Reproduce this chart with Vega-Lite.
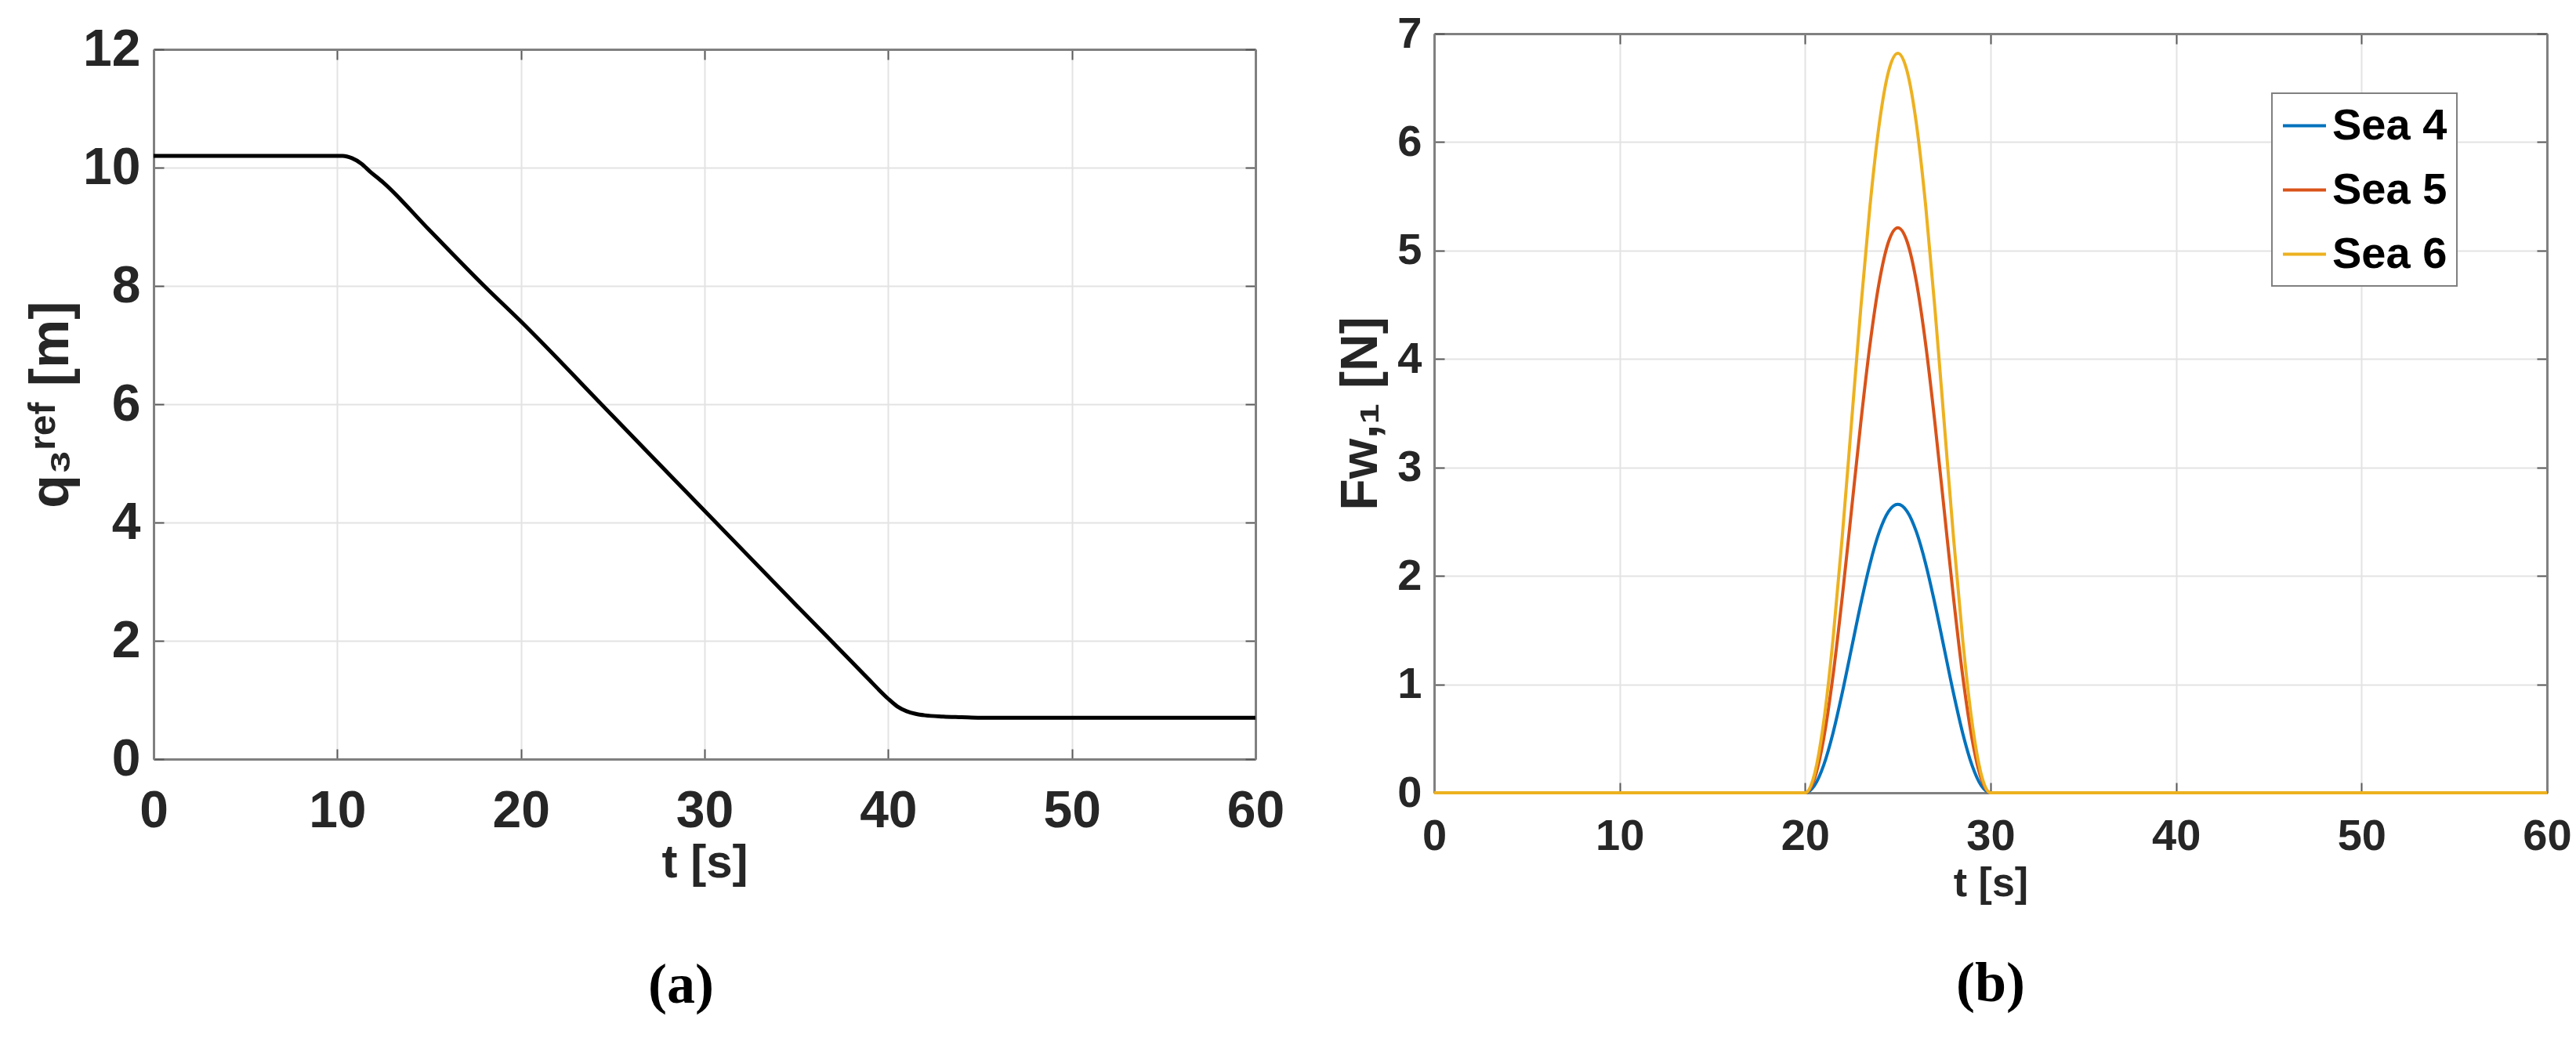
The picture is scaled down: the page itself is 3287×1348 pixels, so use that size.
{
  "$schema": "https://vega.github.io/schema/vega-lite/v6.json",
  "background": "white",
  "padding": {"left": 30, "top": 15, "right": 0, "bottom": 20},
  "autosize": {"type": "pad"},
  "datasets": {
    "q3": [
      {"t": 0, "q": 10.2}, {"t": 5, "q": 10.2}, {"t": 10, "q": 10.2}, {"t": 10.3, "q": 10.2},
      {"t": 10.8, "q": 10.16}, {"t": 11.3, "q": 10.07}, {"t": 11.8, "q": 9.93}, {"t": 12.5, "q": 9.75},
      {"t": 15, "q": 8.95}, {"t": 18, "q": 8.0}, {"t": 20, "q": 7.4}, {"t": 25, "q": 5.8},
      {"t": 30, "q": 4.2}, {"t": 35, "q": 2.6}, {"t": 38, "q": 1.65}, {"t": 39, "q": 1.33},
      {"t": 39.5, "q": 1.17}, {"t": 40, "q": 1.02}, {"t": 40.5, "q": 0.89}, {"t": 41, "q": 0.81},
      {"t": 41.5, "q": 0.765}, {"t": 42, "q": 0.74}, {"t": 43, "q": 0.72}, {"t": 44, "q": 0.71},
      {"t": 45, "q": 0.7}, {"t": 50, "q": 0.7}, {"t": 60, "q": 0.7}
    ],
    "fw": [
      {"t": 0, "F": 0, "sea": "Sea 4"}, {"t": 20, "F": 0, "sea": "Sea 4"}, {"t": 20.5, "F": 0.065, "sea": "Sea 4"},
      {"t": 21, "F": 0.254, "sea": "Sea 4"}, {"t": 21.5, "F": 0.548, "sea": "Sea 4"}, {"t": 22, "F": 0.919, "sea": "Sea 4"},
      {"t": 22.5, "F": 1.33, "sea": "Sea 4"}, {"t": 23, "F": 1.741, "sea": "Sea 4"}, {"t": 23.5, "F": 2.112, "sea": "Sea 4"},
      {"t": 24, "F": 2.406, "sea": "Sea 4"}, {"t": 24.5, "F": 2.595, "sea": "Sea 4"}, {"t": 25, "F": 2.66, "sea": "Sea 4"},
      {"t": 25.5, "F": 2.595, "sea": "Sea 4"}, {"t": 26, "F": 2.406, "sea": "Sea 4"}, {"t": 26.5, "F": 2.112, "sea": "Sea 4"},
      {"t": 27, "F": 1.741, "sea": "Sea 4"}, {"t": 27.5, "F": 1.33, "sea": "Sea 4"}, {"t": 28, "F": 0.919, "sea": "Sea 4"},
      {"t": 28.5, "F": 0.548, "sea": "Sea 4"}, {"t": 29, "F": 0.254, "sea": "Sea 4"}, {"t": 29.5, "F": 0.065, "sea": "Sea 4"},
      {"t": 30, "F": 0, "sea": "Sea 4"}, {"t": 60, "F": 0, "sea": "Sea 4"},
      {"t": 0, "F": 0, "sea": "Sea 5"}, {"t": 20, "F": 0, "sea": "Sea 5"}, {"t": 20.5, "F": 0.128, "sea": "Sea 5"},
      {"t": 21, "F": 0.498, "sea": "Sea 5"}, {"t": 21.5, "F": 1.074, "sea": "Sea 5"}, {"t": 22, "F": 1.8, "sea": "Sea 5"},
      {"t": 22.5, "F": 2.605, "sea": "Sea 5"}, {"t": 23, "F": 3.41, "sea": "Sea 5"}, {"t": 23.5, "F": 4.136, "sea": "Sea 5"},
      {"t": 24, "F": 4.712, "sea": "Sea 5"}, {"t": 24.5, "F": 5.082, "sea": "Sea 5"}, {"t": 25, "F": 5.21, "sea": "Sea 5"},
      {"t": 25.5, "F": 5.082, "sea": "Sea 5"}, {"t": 26, "F": 4.712, "sea": "Sea 5"}, {"t": 26.5, "F": 4.136, "sea": "Sea 5"},
      {"t": 27, "F": 3.41, "sea": "Sea 5"}, {"t": 27.5, "F": 2.605, "sea": "Sea 5"}, {"t": 28, "F": 1.8, "sea": "Sea 5"},
      {"t": 28.5, "F": 1.074, "sea": "Sea 5"}, {"t": 29, "F": 0.498, "sea": "Sea 5"}, {"t": 29.5, "F": 0.128, "sea": "Sea 5"},
      {"t": 30, "F": 0, "sea": "Sea 5"}, {"t": 60, "F": 0, "sea": "Sea 5"},
      {"t": 0, "F": 0, "sea": "Sea 6"}, {"t": 20, "F": 0, "sea": "Sea 6"}, {"t": 20.5, "F": 0.167, "sea": "Sea 6"},
      {"t": 21, "F": 0.651, "sea": "Sea 6"}, {"t": 21.5, "F": 1.406, "sea": "Sea 6"}, {"t": 22, "F": 2.356, "sea": "Sea 6"},
      {"t": 22.5, "F": 3.41, "sea": "Sea 6"}, {"t": 23, "F": 4.464, "sea": "Sea 6"}, {"t": 23.5, "F": 5.414, "sea": "Sea 6"},
      {"t": 24, "F": 6.169, "sea": "Sea 6"}, {"t": 24.5, "F": 6.653, "sea": "Sea 6"}, {"t": 25, "F": 6.82, "sea": "Sea 6"},
      {"t": 25.5, "F": 6.653, "sea": "Sea 6"}, {"t": 26, "F": 6.169, "sea": "Sea 6"}, {"t": 26.5, "F": 5.414, "sea": "Sea 6"},
      {"t": 27, "F": 4.464, "sea": "Sea 6"}, {"t": 27.5, "F": 3.41, "sea": "Sea 6"}, {"t": 28, "F": 2.356, "sea": "Sea 6"},
      {"t": 28.5, "F": 1.406, "sea": "Sea 6"}, {"t": 29, "F": 0.651, "sea": "Sea 6"}, {"t": 29.5, "F": 0.167, "sea": "Sea 6"},
      {"t": 30, "F": 0, "sea": "Sea 6"}, {"t": 60, "F": 0, "sea": "Sea 6"}
    ]
  },
  "spacing": 64,
  "resolve": {"scale": {"color": "independent"}, "legend": {"color": "independent"}},
  "hconcat": [
    {
      "bounds": "flush",
      "spacing": 19,
      "vconcat": [
        {
          "width": 1406,
          "height": 1,
          "data": {"values": [{"s": 0}]},
          "mark": {"type": "point", "opacity": 0, "size": 1},
          "encoding": {}
        },
        {
          "width": 1406,
          "height": 906,
          "data": {"name": "q3"},
          "title": {"text": "(a)", "orient": "bottom", "font": "Liberation Serif", "fontSize": 72, "fontWeight": "bold", "color": "#000000", "offset": 92, "anchor": "middle", "dx": -30},
          "layer": [
            {
              "mark": {"type": "line", "color": "#000000", "strokeWidth": 5, "interpolate": "monotone"},
              "encoding": {
                "x": {"field": "t", "type": "quantitative", "scale": {"domain": [0, 60], "nice": false},
                  "axis": {"orient": "bottom", "values": [0, 10, 20, 30, 40, 50, 60], "title": "t [s]", "labelFontSize": 66, "titleFontSize": 60, "labelPadding": 47, "titlePadding": 4, "grid": true}},
                "y": {"field": "q", "type": "quantitative", "scale": {"domain": [0, 12], "nice": false},
                  "axis": {"orient": "left", "values": [0, 2, 4, 6, 8, 10, 12], "title": "q₃ʳᵉᶠ [m]", "labelFontSize": 66, "titleFontSize": 70, "labelPadding": 30, "titlePadding": 4, "grid": true}}
              }
            },
            {
              "mark": {"type": "line", "strokeOpacity": 0},
              "encoding": {
                "x": {"field": "t", "type": "quantitative", "axis": {"orient": "top", "values": [0, 10, 20, 30, 40, 50, 60], "labels": false, "title": null, "grid": false}},
                "y": {"field": "q", "type": "quantitative", "axis": {"orient": "right", "values": [0, 2, 4, 6, 8, 10, 12], "labels": false, "title": null, "grid": false}}
              }
            }
          ],
          "resolve": {"axis": {"x": "independent", "y": "independent"}}
        }
      ]
    },
    {
      "width": 1420,
      "height": 969,
      "data": {"name": "fw"},
      "title": {"text": "(b)", "orient": "bottom", "font": "Liberation Serif", "fontSize": 72, "fontWeight": "bold", "color": "#000000", "offset": 68, "anchor": "middle"},
      "layer": [
        {
          "mark": {"type": "line", "strokeWidth": 4, "interpolate": "monotone"},
          "encoding": {
            "x": {"field": "t", "type": "quantitative", "scale": {"domain": [0, 60], "nice": false},
              "axis": {"orient": "bottom", "values": [0, 10, 20, 30, 40, 50, 60], "title": "t [s]", "labelFontSize": 56, "titleFontSize": 52, "labelPadding": 41, "titlePadding": 7, "grid": true}},
            "y": {"field": "F", "type": "quantitative", "scale": {"domain": [0, 7], "nice": false},
              "axis": {"orient": "left", "values": [0, 1, 2, 3, 4, 5, 6, 7], "title": "Fᴡ,₁ [N]", "labelFontSize": 56, "titleFontSize": 66, "labelPadding": 29, "titlePadding": 12, "grid": true}},
            "color": {"field": "sea", "type": "nominal",
              "scale": {"domain": ["Sea 4", "Sea 5", "Sea 6"], "range": ["#0072BD", "#D95319", "#EDB120"]},
              "legend": {"title": null, "orient": "none", "legendX": 1069, "legendY": 76}}
          }
        },
        {
          "mark": {"type": "line", "strokeOpacity": 0},
          "encoding": {
            "x": {"field": "t", "type": "quantitative", "axis": {"orient": "top", "values": [0, 10, 20, 30, 40, 50, 60], "labels": false, "title": null, "grid": false}},
            "y": {"field": "F", "type": "quantitative", "axis": {"orient": "right", "values": [0, 1, 2, 3, 4, 5, 6, 7], "labels": false, "title": null, "grid": false}}
          }
        }
      ],
      "resolve": {"axis": {"x": "independent", "y": "independent"}}
    }
  ],
  "config": {
    "view": {"stroke": null},
    "axis": {
      "labelFont": "'Liberation Sans', Arial, sans-serif",
      "titleFont": "'Liberation Sans', Arial, sans-serif",
      "labelFontWeight": "bold",
      "titleFontWeight": "bold",
      "labelColor": "#262626",
      "titleColor": "#262626",
      "labelFlush": false,
      "labelOverlap": false,
      "gridColor": "#e3e3e3",
      "gridWidth": 2,
      "domainColor": "#808080",
      "domainWidth": 3,
      "tickColor": "#5a5a5a",
      "tickWidth": 2,
      "tickSize": -13
    },
    "legend": {
      "labelFont": "'Liberation Sans', Arial, sans-serif",
      "labelFontWeight": "bold",
      "labelFontSize": 56,
      "labelColor": "#000000",
      "labelLimit": 500,
      "symbolType": "stroke",
      "symbolStrokeWidth": 4,
      "symbolSize": 3025,
      "strokeColor": "#808080",
      "strokeWidth": 2,
      "fillColor": "#ffffff",
      "padding": 12,
      "rowPadding": 24,
      "labelOffset": 6
    }
  }
}
